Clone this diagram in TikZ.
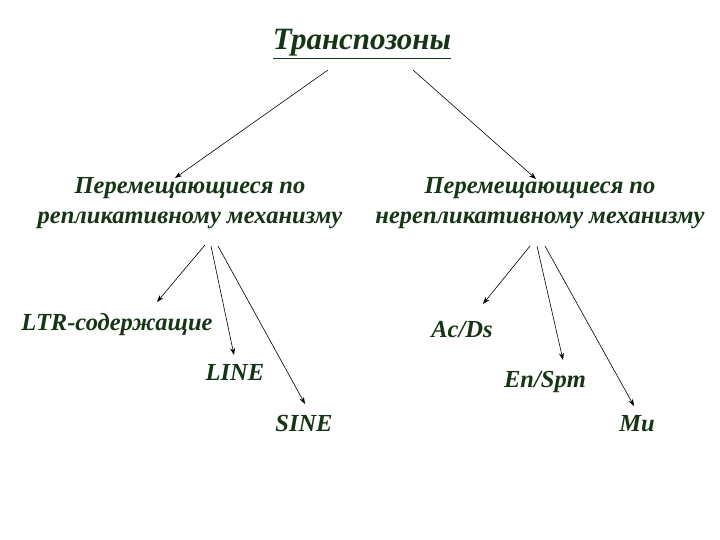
\documentclass[tikz,border=0pt]{standalone}
\usepackage{fontspec}
\usetikzlibrary{arrows.meta}
\setmainfont{Liberation Serif}
\definecolor{dg}{RGB}{22,52,22}
\begin{document}
\begin{tikzpicture}[x=1pt,y=-1pt,
  lbl/.style={text=dg,font=\bfseries\itshape\fontsize{24.5}{30}\selectfont,align=center,inner sep=0pt},
  arr/.style={-{Stealth[length=7pt,width=5pt]},line width=0.6pt}]
\path[use as bounding box,fill=white] (0,0) rectangle (720,540);
\node[lbl,font=\bfseries\itshape\fontsize{31}{34}\selectfont] (t) at (362,44) {\underline{Транспозоны}};
\node[lbl] (l) at (190,203) {Перемещающиеся по\\репликативному механизму};
\node[lbl] (r) at (540,203) {Перемещающиеся по\\нерепликативному механизму};
\node[lbl] (ltr) at (117,325) {LTR-содержащие};
\node[lbl] (line) at (235,372) {LINE};
\node[lbl] (sine) at (304,424) {SINE};
\node[lbl] (ac) at (462,330) {Ac/Ds};
\node[lbl] (en) at (545,382) {En/Spm};
\node[lbl] (mu) at (637,424) {Mu};
\coordinate (t1) at (328,70); \coordinate (t2) at (413,70);
\coordinate (l1) at (205,245); \coordinate (l2) at (211,246); \coordinate (l3) at (218,246);
\coordinate (r1) at (530,246); \coordinate (r2) at (537,246); \coordinate (r3) at (545,246);
\coordinate (ltre) at (157,302); \coordinate (linee) at (234,355); \coordinate (sinee) at (305,404);
\coordinate (ace) at (483,304); \coordinate (ene) at (563,360); \coordinate (mue) at (634,406);
\coordinate (le) at (175,178); \coordinate (re) at (536,179);
\draw[arr] (t1) -- (le);
\draw[arr] (t2) -- (re);
\draw[arr] (l1) -- (ltre);
\draw[arr] (l2) -- (linee);
\draw[arr] (l3) -- (sinee);
\draw[arr] (r1) -- (ace);
\draw[arr] (r2) -- (ene);
\draw[arr] (r3) -- (mue);
\end{tikzpicture}
\end{document}
